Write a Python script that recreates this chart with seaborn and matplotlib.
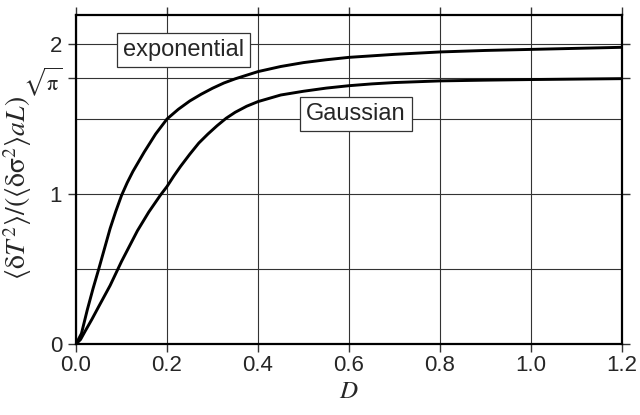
import numpy as np
import pandas as pd
import matplotlib
matplotlib.use("Agg")
import matplotlib.pyplot as plt
import seaborn as sns

# Data
d_exp = [0.000, 0.012, 0.025, 0.0375, 0.050, 0.075, 0.0875, 0.100, 0.1125, 0.125,
         0.150, 0.175, 0.200, 0.225, 0.250, 0.275, 0.300, 0.325, 0.350, 0.400,
         0.450, 0.500, 0.550, 0.600, 0.700, 0.800, 0.900, 1.000, 1.100, 1.200]
v_exp = [0.000, 0.070, 0.230, 0.370, 0.500, 0.770, 0.885, 0.990, 1.075, 1.150,
         1.280, 1.400, 1.500, 1.565, 1.620, 1.665, 1.705, 1.740, 1.768, 1.816,
         1.850, 1.876, 1.895, 1.911, 1.931, 1.947, 1.957, 1.964, 1.971, 1.978]

d_gau = [0.000, 0.010, 0.020, 0.035, 0.050, 0.075, 0.100, 0.135, 0.160, 0.185,
         0.200, 0.215, 0.230, 0.250, 0.270, 0.290, 0.310, 0.330, 0.350, 0.375,
         0.400, 0.450, 0.500, 0.550, 0.600, 0.650, 0.700, 0.800, 0.900, 1.000,
         1.100, 1.200]
v_gau = [0.000, 0.030, 0.085, 0.165, 0.250, 0.390, 0.550, 0.755, 0.880, 0.990,
         1.050, 1.120, 1.185, 1.265, 1.340, 1.400, 1.455, 1.505, 1.545, 1.585,
         1.616, 1.660, 1.685, 1.706, 1.722, 1.734, 1.743, 1.754, 1.759, 1.763,
         1.766, 1.769]

x_ticks = [0.0, 0.2, 0.4, 0.6, 0.8, 1.0, 1.2]
x_tick_labels = ["0.0", "0.2", "0.4", "0.6", "0.8", "1.0", "1.2"]
y_ticks = [0, 1, float(np.sqrt(np.pi)), 2]
y_tick_labels = ["0", "1", r"$\sqrt{\mathrm{\pi}}$", "2"]
y_minor = [0.5, 1.5]

df = pd.concat([
    pd.DataFrame({"D": d_exp, "val": v_exp, "model": "exponential"}),
    pd.DataFrame({"D": d_gau, "val": v_gau, "model": "Gaussian"}),
])

sns.set_style("ticks")
plt.rcParams["font.family"] = ["Liberation Sans", "DejaVu Sans"]
plt.rcParams["mathtext.fontset"] = "stix"

fig = plt.figure(figsize=(6.4, 4.15), dpi=100)
ax = fig.add_axes([76/640, 71/415, (622-76)/640, (344-15)/415])

sns.lineplot(data=df, x="D", y="val", hue="model", palette=["black", "black"],
             legend=False, ax=ax, linewidth=2.1, sort=False)

ax.set_xlim(0, 1.2)
ax.set_ylim(0, (344-15)/150)

ax.set_xticks(x_ticks)
ax.set_xticklabels(x_tick_labels)
ax.set_yticks(y_ticks)
ax.set_yticklabels(y_tick_labels)
ax.set_yticks(y_minor, minor=True)

ax.grid(True, which="both", color="0.2", linewidth=0.8)
ax.set_axisbelow(True)

ax.tick_params(which="major", direction="out", length=6, width=1.0, color="0.2",
               top=True, right=True, labeltop=False, labelright=False,
               labelsize=16)
ax.tick_params(axis="x", which="major", pad=2)
ax.tick_params(axis="y", which="major", pad=4)
ax.tick_params(which="minor", length=0)
for lab in ax.get_yticklabels():
    if "pi" in lab.get_text():
        lab.set_fontsize(16)
for s in ax.spines.values():
    s.set_visible(True)
    s.set_linewidth(1.6)
    s.set_color("black")

ax.set_xlabel(r"$D$", fontsize=18, labelpad=2)
ax.set_ylabel(r"$\langle\mathrm{\delta}T^2\rangle/(\langle\mathrm{\delta\sigma}^2\rangle aL)$",
              fontsize=20)
ax.yaxis.set_label_coords(-0.077, 0.475)

box = dict(boxstyle="square,pad=0.25", fc="white", ec="0.2", lw=0.9)
ax.text(0.2365, 1.96, "exponential", fontsize=17, ha="center", va="center", bbox=box)
ax.text(0.615, 1.535, "Gaussian", fontsize=17, ha="center", va="center", bbox=box)

fig.savefig("out.png", dpi=100)
